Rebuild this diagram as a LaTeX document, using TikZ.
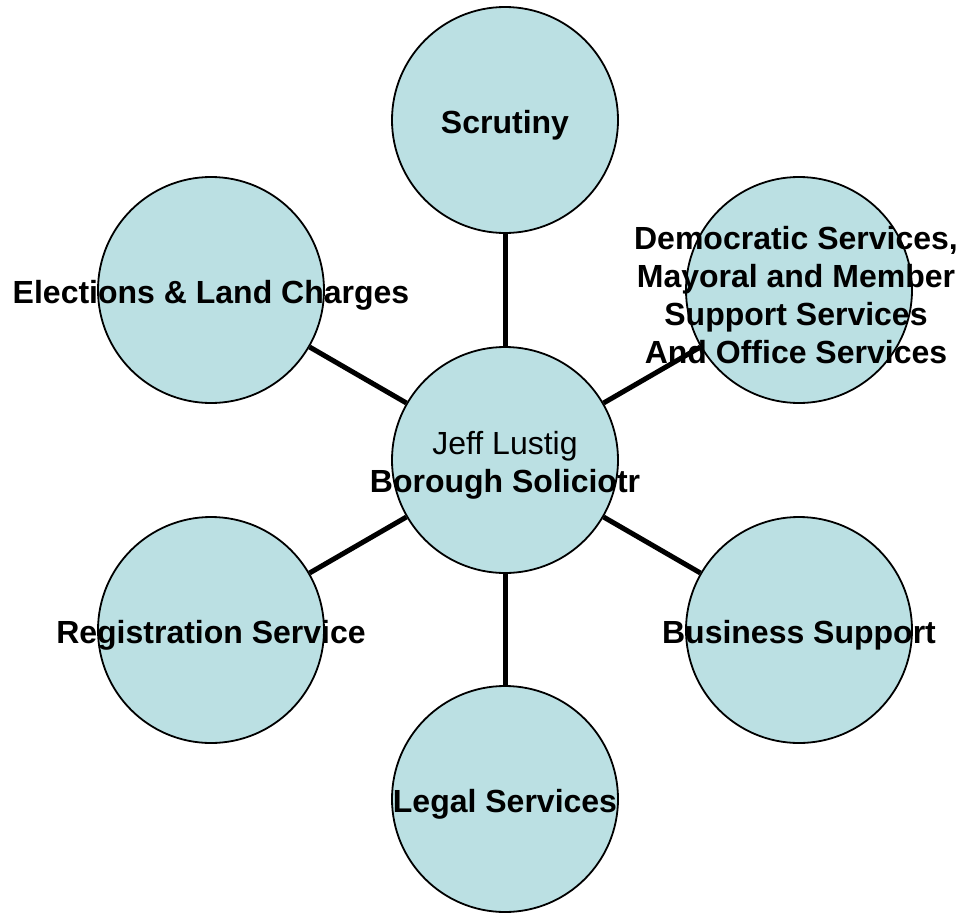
\documentclass[tikz,border=0pt]{standalone}
\usepackage{fontspec}
\setmainfont{Liberation Sans}
\usepackage{tikz}
\definecolor{unitfill}{RGB}{187,224,227}
\tikzset{>=latex}
\tikzset{
  unit/.style={circle,draw=black,line width=1.8pt,fill=unitfill,minimum size=226pt,inner sep=0pt},
  link/.style={line width=5pt},
  caption/.style={align=center,inner sep=0pt,font=\fontsize{32}{38}\selectfont\bfseries}
}

\begin{document}
\begin{tikzpicture}[x=1pt,y=-1pt]
    \useasboundingbox (0,0) rectangle (961,913);

    \node[unit] (hub) at (505,460) {};
    \node[unit] (scrutiny) at (505,120) {};
    \node[unit] (democratic) at (799,290) {};
    \node[unit] (elections) at (211,290) {};
    \node[unit] (registration) at (211,630) {};
    \node[unit] (business) at (799,630) {};
    \node[unit] (legal) at (505,799) {};

    \draw[link] (hub) -- (scrutiny);
    \draw[link] (hub) -- (democratic);
    \draw[link] (hub) -- (elections);
    \draw[link] (hub) -- (registration);
    \draw[link] (hub) -- (business);
    \draw[link] (hub) -- (legal);

    \node[caption] (hubtext) at (505,465) {{\mdseries Jeff Lustig}\\ Borough Soliciotr};
    \node[caption] (scrutinytext) at (505,125) {Scrutiny};
    \node[caption] (democratictext) at (796,295) {Democratic Services,\\ Mayoral and Member\\
      Support Services\\ And Office Services};
    \node[caption] (electionstext) at (211,295) {Elections \& Land Charges};
    \node[caption] (registrationtext) at (211,635) {Registration Service};
    \node[caption] (businesstext) at (799,635) {Business Support};
    \node[caption] (legaltext) at (505,804) {Legal Services};
\end{tikzpicture}
\end{document}
